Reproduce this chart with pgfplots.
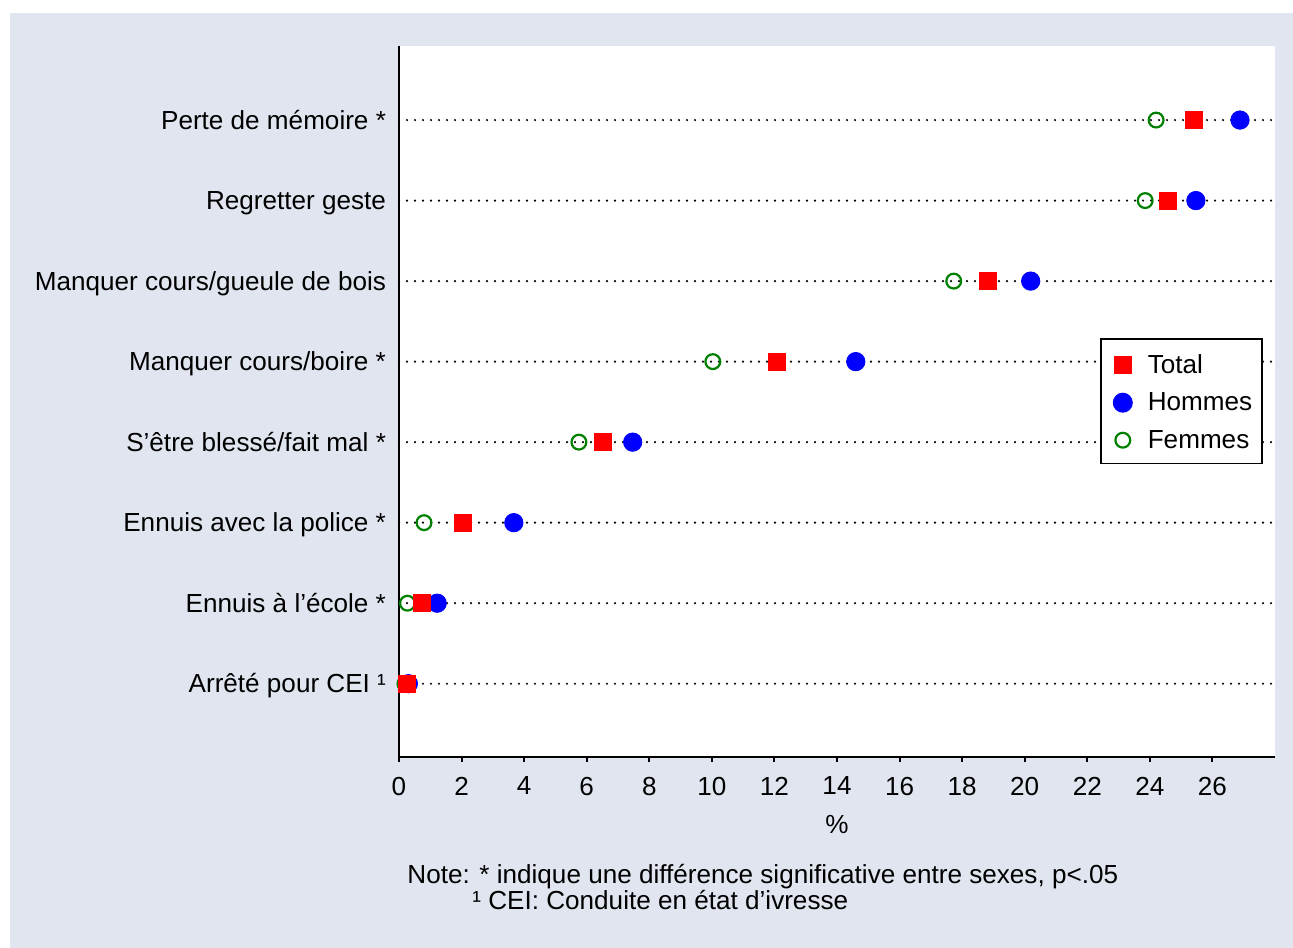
\documentclass[border=0pt]{standalone}
\usepackage{pgfplots}
\pgfplotsset{compat=1.18}
\usepackage{fontspec}
\setmainfont{Liberation Sans}
\definecolor{bg}{RGB}{224,229,240}
\definecolor{sgreen}{RGB}{0,128,0}
\begin{document}
\begin{tikzpicture}[x=1bp,y=1bp]
\fill[white] (0,0) rectangle (646.5,474);
\fill[bg] (5,0) rectangle (646.5,467.5);
\begin{axis}[
  at={(199.5bp,95.5bp)}, anchor=south west,
  scale only axis, width=438bp, height=355.5bp,
  xmin=0, xmax=28, ymin=0.09, ymax=8.92,
  axis x line*=bottom, axis y line*=left,
  axis line style={-, line width=1bp, black},
  axis background/.style={fill=white},
  clip=false,
  xtick={0,2,...,26}, ytick={1,...,8},
  yticklabels={Arrêté pour CEI ¹, Ennuis à l’école *, Ennuis avec la police *, S’être blessé/fait mal *, Manquer cours/boire *, Manquer cours/gueule de bois, Regretter geste, Perte de mémoire *},
  ytick style={draw=none},
  xtick style={black, line width=1bp},
  tick align=outside, major tick length=2.5bp,
  tick label style={font=\fontsize{13.1}{15}\selectfont},
  yticklabel style={anchor=base east, yshift=-4.6bp, xshift=-0.5bp},
  xticklabel style={yshift=-4bp},
  /pgf/number format/assume math mode=true,
  ymajorgrids,
  grid style={black, line width=1.2bp, dash pattern=on 0bp off 4bp, line cap=round},
  xlabel={\%},
  xlabel style={at={(axis description cs:0.5,-0.0956)}, anchor=center, font=\fontsize{13.1}{15}\selectfont},
  legend style={at={(axis description cs:0.8002,0.589)}, anchor=north west, draw=black, line width=0.8bp, fill=white, font=\fontsize{13.1}{15}\selectfont, inner xsep=0pt, inner ysep=4.5bp, row sep=3bp, column sep=0pt, nodes={inner sep=0pt, text height=9.5bp, text depth=3bp}, legend cell align=left},
  legend image code/.code={\path[draw=none, fill=none] (0bp,-3bp) rectangle (23.5bp,9.5bp); \draw[#1, mark repeat=1] plot coordinates {(11bp,0.9bp)};},
  reverse legend,
]
\addplot[only marks, mark=o, draw=sgreen, mark options={line width=1.1bp}, mark size=3.7bp] coordinates {
 (0.19,1) (0.27,2) (0.80,3) (5.75,4) (10.03,5) (17.73,6) (23.85,7) (24.20,8)};
\addlegendentry{Femmes\kern5bp}
\addplot[only marks, mark=*, draw=blue, fill=blue, mark size=4.6bp] coordinates {
 (0.30,1) (1.22,2) (3.67,3) (7.47,4) (14.60,5) (20.19,6) (25.47,7) (26.88,8)};
\addlegendentry{Hommes\kern5bp}
\addplot[only marks, mark=square*, draw=red, fill=red, mark size=4.2bp] coordinates {
 (0.26,1) (0.72,2) (2.04,3) (6.52,4) (12.07,5) (18.81,6) (24.57,7) (25.40,8)};
\addlegendentry{Total}
\end{axis}
\node[anchor=base west, font=\fontsize{13.1}{15}\selectfont, inner sep=0pt] at (203.5,32) {Note: * indique une différence significative entre sexes, p<.05};
\node[anchor=base west, font=\fontsize{13.1}{15}\selectfont, inner sep=0pt] at (236,19) {¹ CEI: Conduite en état d’ivresse};
\end{tikzpicture}
\end{document}
